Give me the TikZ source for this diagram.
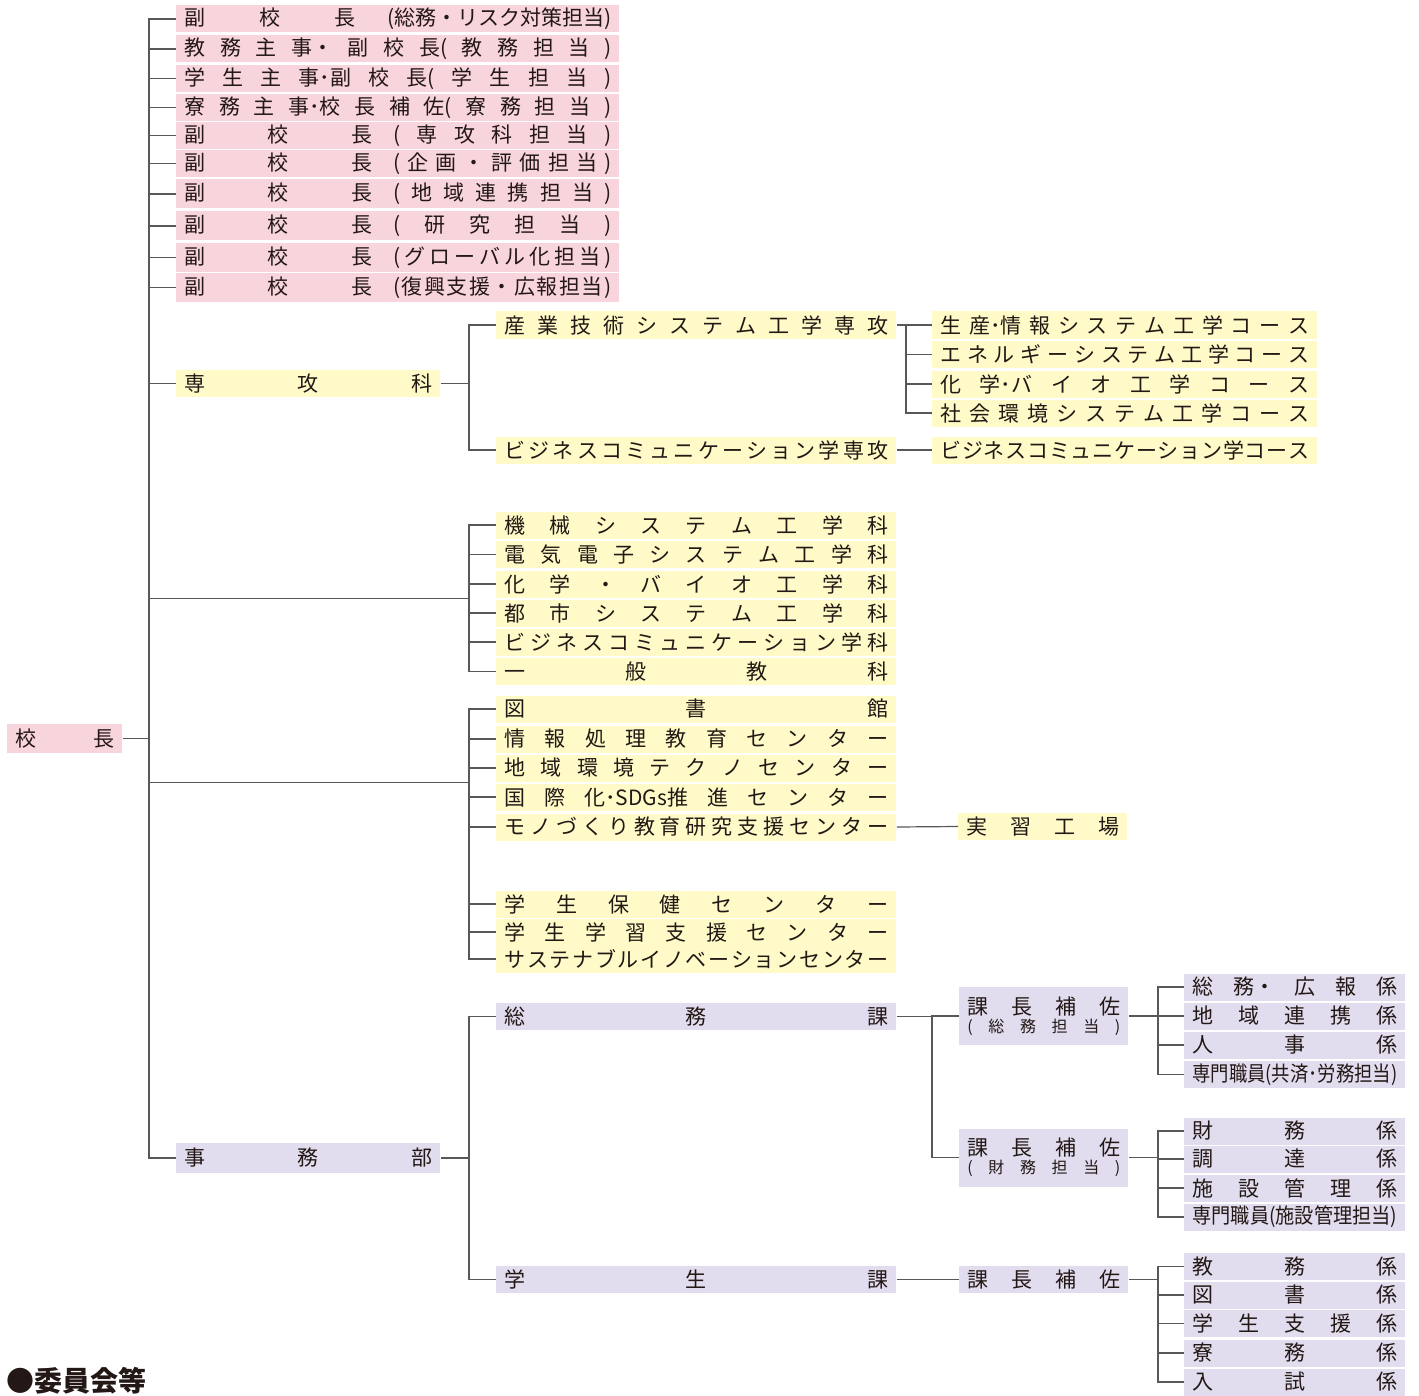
\documentclass[tikz,border=0pt]{standalone}
\usepackage{fontspec}
\setmainfont{Noto Sans CJK JP}
\usepackage{graphicx}
\usetikzlibrary{positioning}

\definecolor{pinkc}{RGB}{248,212,221}
\definecolor{yelc}{RGB}{255,250,199}
\definecolor{lavc}{RGB}{225,221,238}
\definecolor{inkc}{RGB}{35,24,21}
\definecolor{linec}{RGB}{89,87,87}

\newdimen\pxu \pxu=0.5pt
% spread the units of #2 over #1 px
\ExplSyntaxOn
\NewDocumentCommand\spr{mm}{\makebox[#1\pxu][s]{\tl_map_inline:nn{#2}{##1\hfill}\unskip}}
\ExplSyntaxOff
\newcommand\zone[2]{\makebox[#1\pxu][s]{#2}}
\newcommand\fitw[2]{\resizebox{#1\pxu}{\height}{#2}}

\tikzset{
  box/.style={anchor=west, inner xsep=4pt, inner ysep=0pt, minimum height=13.5pt,
    text=inkc, font=\fontsize{10.5}{12}\selectfont},
  pinkbox/.style={box, fill=pinkc},
  yelbox/.style={box, fill=yelc},
  lavbox/.style={box, fill=lavc},
  hosabox/.style={lavbox, minimum height=29pt, align=center, font=\fontsize{10.5}{9}\selectfont},
  conn/.style={draw=linec, line width=0.6pt},
}

\begin{document}
\begin{tikzpicture}[x=0.5pt,y=-0.5pt]
  \useasboundingbox (0,0) rectangle (1419,1396);

  % 校長
  \node[pinkbox, minimum height=14.5pt] (kocho) at (7,738.5) {\spr{99}{校長}};

  % 副校長・主事
  \node[pinkbox] (fuku1) at (176,19) {\zone{427}{\spr{171}{副校長}\hfill\spr{224}{(総務・リスク対策担当)}}};
  \node[pinkbox] (fuku2) at (176,49) {\spr{427}{教務主{事・}副校{長(}教務担当)}};
  \node[pinkbox] (fuku3) at (176,78.5) {\spr{427}{学生主{事･副}校{長(}学生担当)}};
  \node[pinkbox] (fuku4) at (176,107.5) {\spr{427}{寮務主{事･校}長補{佐(}寮務担当)}};
  \node[pinkbox] (fuku5) at (176,135.5) {\zone{427}{\spr{188}{副校長}\hfill\spr{218}{(専攻科担当)}}};
  \node[pinkbox] (fuku6) at (176,163.5) {\zone{427}{\spr{188}{副校長}\hfill\spr{218}{(企画・評価担当)}}};
  \node[pinkbox, minimum height=14.5pt] (fuku7) at (176,194) {\zone{427}{\spr{188}{副校長}\hfill\spr{218}{(地域連携担当)}}};
  \node[pinkbox, minimum height=14.5pt] (fuku8) at (176,226) {\zone{427}{\spr{188}{副校長}\hfill\spr{218}{(研究担当)}}};
  \node[pinkbox, minimum height=14.5pt] (fuku9) at (176,257.5) {\zone{427}{\spr{188}{副校長}\hfill\spr{218}{(グローバル化担当)}}};
  \node[pinkbox, minimum height=14.5pt] (fuku10) at (176,287.5) {\zone{427}{\spr{188}{副校長}\hfill\spr{218}{(復興支援・広報担当)}}};

  % 専攻科
  \node[yelbox] (senkoka) at (176,383.5) {\spr{248}{専攻科}};
  \node[yelbox] (sen1) at (496,325) {\spr{384}{産業技術システム工学専攻}};
  \node[yelbox] (sen2) at (496,450) {\spr{384}{ビジネスコミュニケーション学専攻}};
  \node[yelbox] (co1) at (932,325) {\spr{369}{生{産･情}報システム工学コース}};
  \node[yelbox] (co2) at (932,354.5) {\spr{369}{エネルギーシステム工学コース}};
  \node[yelbox] (co3) at (932,384) {\spr{369}{化{学･バ}イオ工学コース}};
  \node[yelbox] (co4) at (932,413) {\spr{369}{社会環境システム工学コース}};
  \node[yelbox] (co5) at (932,450) {\spr{369}{ビジネスコミュニケーション学コース}};

  % 学科
  \node[yelbox] (ka1) at (496,525) {\spr{384}{機械システム工学科}};
  \node[yelbox] (ka2) at (496,554.5) {\spr{384}{電気電子システム工学科}};
  \node[yelbox] (ka3) at (496,584) {\spr{384}{化学・バイオ工学科}};
  \node[yelbox] (ka4) at (496,613) {\spr{384}{都市システム工学科}};
  \node[yelbox] (ka5) at (496,642) {\spr{384}{ビジネスコミュニケーション学科}};
  \node[yelbox] (ka6) at (496,671.5) {\spr{384}{一般教科}};

  % 図書館・センター
  \node[yelbox] (ce1) at (496,709) {\spr{384}{図書館}};
  \node[yelbox] (ce2) at (496,739) {\spr{384}{情報処理教育センター}};
  \node[yelbox] (ce3) at (496,768) {\spr{384}{地域環境テクノセンター}};
  \node[yelbox] (ce4) at (496,797) {\spr{384}{国際{化･SDGs推}進センター}};
  \node[yelbox] (ce5) at (496,827) {\spr{384}{モノづくり教育研究支援センター}};
  \node[yelbox] (ce6) at (496,904) {\spr{384}{学生保健センター}};
  \node[yelbox] (ce7) at (496,932) {\spr{384}{学生学習支援センター}};
  \node[yelbox] (ce8) at (496,959) {\spr{384}{サステナブルイノベーションセンター}};
  \node[yelbox] (jisshu) at (958,826.5) {\spr{153}{実習工場}};

  % 事務部
  \node[lavbox, minimum height=15pt] (jimu) at (176,1158) {\spr{248}{事務部}};
  \node[lavbox] (somu) at (496,1016.5) {\spr{384}{総務課}};
  \node[lavbox] (gakusei) at (496,1279.5) {\spr{384}{学生課}};
  \node[hosabox] (hosa1) at (959,1016) {\spr{153}{課長補佐}\\{\fontsize{8}{9}\selectfont\spr{153}{(総務担当)}}};
  \node[hosabox] (hosa2) at (959,1157.5) {\spr{153}{課長補佐}\\{\fontsize{8}{9}\selectfont\spr{153}{(財務担当)}}};
  \node[lavbox] (hosa3) at (959,1279.5) {\spr{153}{課長補佐}};

  \node[lavbox] (s11) at (1184,987) {\spr{205}{総{務・}広報係}};
  \node[lavbox] (s12) at (1184,1016) {\spr{205}{地域連携係}};
  \node[lavbox] (s13) at (1184,1045) {\spr{205}{人事係}};
  \node[lavbox] (s14) at (1184,1074.5) {\fitw{205}{専門職員(共済･労務担当)}};
  \node[lavbox] (s21) at (1184,1131) {\spr{205}{財務係}};
  \node[lavbox] (s22) at (1184,1159) {\spr{205}{調達係}};
  \node[lavbox] (s23) at (1184,1188) {\spr{205}{施設管理係}};
  \node[lavbox] (s24) at (1184,1217) {\fitw{205}{専門職員(施設管理担当)}};
  \node[lavbox] (s31) at (1184,1266.5) {\spr{205}{教務係}};
  \node[lavbox] (s32) at (1184,1295) {\spr{205}{図書係}};
  \node[lavbox] (s33) at (1184,1323.5) {\spr{205}{学生支援係}};
  \node[lavbox] (s34) at (1184,1353) {\spr{205}{寮務係}};
  \node[lavbox] (s35) at (1184,1382) {\spr{205}{入試係}};

  % 見出し
  \node[anchor=base west, inner sep=0pt, text=inkc, font=\fontsize{14}{14}\selectfont\bfseries] (iinkai) at (6,1391) {●委員会等};

  % 分岐点
  \coordinate (kj) at (149,738.5);
  \coordinate (sj) at (469,383.5);
  \coordinate (cj) at (906,325);
  \coordinate (gk) at (469,598.5);
  \coordinate (ck) at (469,782.5);
  \coordinate (jj) at (469,1158);
  \coordinate (sj2) at (932,1016.5);
  \coordinate (h1) at (1158,1016);
  \coordinate (h2) at (1158,1157.5);
  \coordinate (h3) at (1158,1279.5);

  % 接続線
  \draw[conn] (kocho.east) -- (kj);
  \foreach \i in {1,...,10} \draw[conn] (kj) |- (fuku\i.west);
  \draw[conn] (kj) |- (senkoka.west);
  \draw[conn] (kj) |- (gk);
  \draw[conn] (kj) |- (ck);
  \draw[conn] (kj) |- (jimu.west);

  \draw[conn] (senkoka.east) -- (sj);
  \foreach \n in {sen1,sen2} \draw[conn] (sj) |- (\n.west);
  \draw[conn] (sen1.east) -- (cj);
  \foreach \i in {1,...,4} \draw[conn] (cj) |- (co\i.west);
  \draw[conn] (sen2.east) -- (co5.west);

  \foreach \i in {1,...,6} \draw[conn] (gk) |- (ka\i.west);
  \foreach \i in {1,...,8} \draw[conn] (ck) |- (ce\i.west);
  \draw[conn] (ce5.east) -- (jisshu.west);

  \draw[conn] (jimu.east) -- (jj);
  \foreach \n in {somu,gakusei} \draw[conn] (jj) |- (\n.west);
  \draw[conn] (somu.east) -- (sj2);
  \foreach \n in {hosa1,hosa2} \draw[conn] (sj2) |- (\n.west);
  \draw[conn] (gakusei.east) -- (hosa3.west);
  \draw[conn] (hosa1.east) -- (h1);
  \draw[conn] (hosa2.east) -- (h2);
  \draw[conn] (hosa3.east) -- (h3);
  \foreach \i in {1,...,4} \draw[conn] (h1) |- (s1\i.west);
  \foreach \i in {1,...,4} \draw[conn] (h2) |- (s2\i.west);
  \foreach \i in {1,...,5} \draw[conn] (h3) |- (s3\i.west);
\end{tikzpicture}
\end{document}
